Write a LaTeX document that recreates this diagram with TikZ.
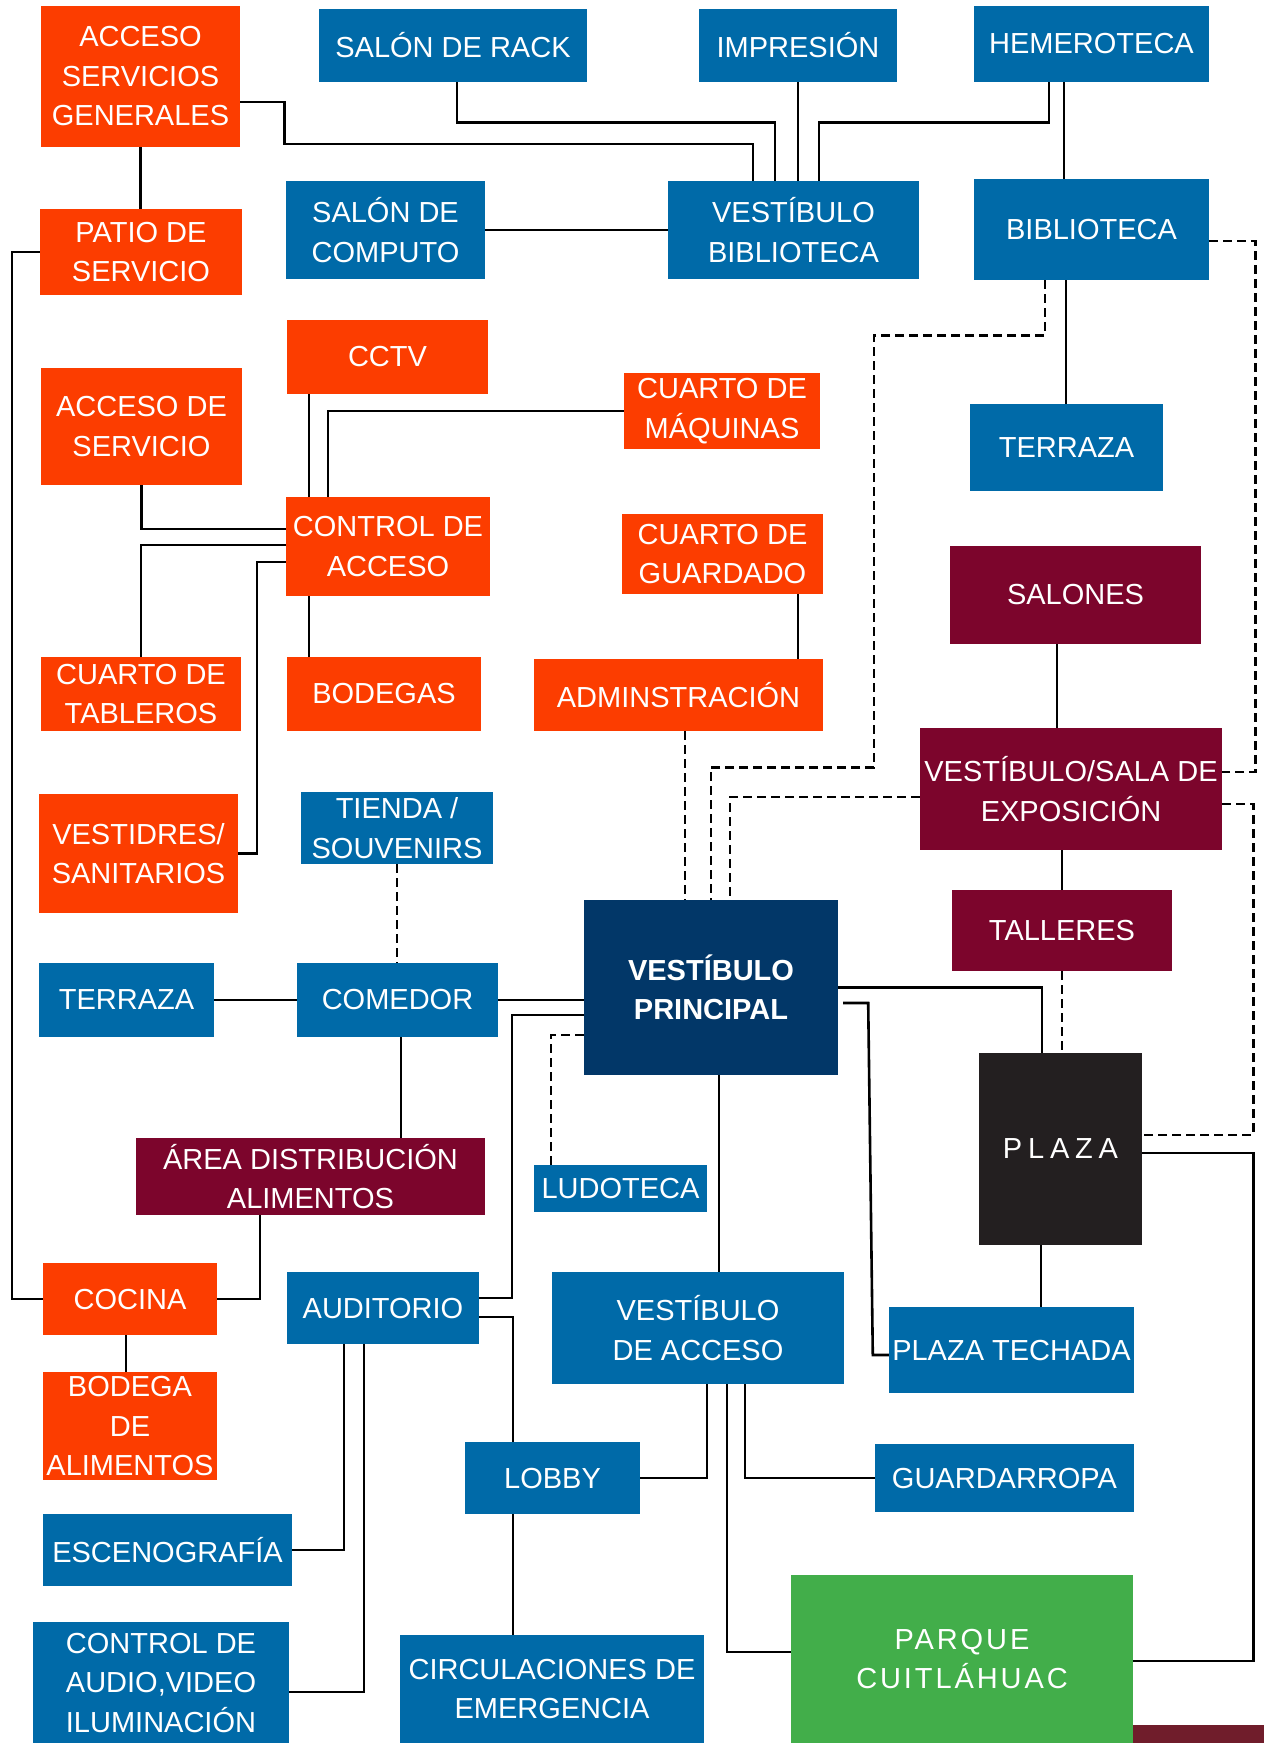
\documentclass[tikz,border=0pt]{standalone}
\usepackage{fontspec}
\setmainfont{Liberation Sans}
\usetikzlibrary{calc}

\definecolor{orng}{RGB}{252,61,0}
\definecolor{blu}{RGB}{0,106,168}
\definecolor{navy}{RGB}{2,55,104}
\definecolor{marn}{RGB}{124,5,44}
\definecolor{plz}{RGB}{35,31,32}
\definecolor{grn}{RGB}{66,174,74}
\definecolor{wine}{RGB}{112,29,43}

\newcommand{\roomfont}{\fontsize{29}{39.5}\selectfont}

\begin{document}
\begin{tikzpicture}[
    x=1pt, y=-1pt,
    every node/.style={font=\roomfont},
    room/.style={
        rectangle,
        fill=#1,
        text=white,
        align=center,
        inner sep=0pt
    },
    wh/.style 2 args={minimum width=#1pt, minimum height=#2pt},
    link/.style={line width=2.6pt, black},
    dlink/.style={link, dash pattern=on 9pt off 5pt}
]
\useasboundingbox (0,0) rectangle (1264,1743);

% Top: library wing
\node[room=orng, wh={199}{141}] (asg)     at (140.5,76.5)   {ACCESO\\SERVICIOS\\GENERALES};
\node[room=blu,  wh={268}{73}]  (rack)    at (453,45.5)     {SALÓN DE RACK};
\node[room=blu,  wh={198}{73}]  (impr)    at (798,45.5)     {IMPRESIÓN};
\node[room=blu,  wh={235}{76}]  (hemer)   at (1091.5,44)    {HEMEROTECA};
\node[room=orng, wh={202}{86}]  (patio)   at (141,252)      {PATIO DE\\SERVICIO};
\node[room=blu,  wh={199}{98}]  (comp)    at (385.5,230)    {SALÓN DE\\COMPUTO};
\node[room=blu,  wh={251}{98}]  (vbib)    at (793.5,230)    {VESTÍBULO\\BIBLIOTECA};
\node[room=blu,  wh={235}{101}] (bib)     at (1091.5,229.5) {BIBLIOTECA};
\node[room=blu,  wh={193}{87}]  (terrn)   at (1066.5,447.5) {TERRAZA};

% Service wing
\node[room=orng, wh={201}{74}]  (cctv)    at (387.5,357)    {CCTV};
\node[room=orng, wh={196}{76}]  (maq)     at (722,411)      {CUARTO DE\\MÁQUINAS};
\node[room=orng, wh={201}{117}] (ads)     at (141.5,426.5)  {ACCESO DE\\SERVICIO};
\node[room=orng, wh={204}{99}]  (cda)     at (388,546.5)    {CONTROL DE\\ACCESO};
\node[room=orng, wh={201}{80}]  (guard)   at (722.5,554)    {CUARTO DE\\GUARDADO};
\node[room=orng, wh={200}{74}]  (tabl)    at (141,694)      {CUARTO DE\\TABLEROS};
\node[room=orng, wh={194}{74}]  (bodegas) at (384,694)      {BODEGAS};
\node[room=orng, wh={289}{72}]  (admin)   at (678.5,695)    {ADMINSTRACIÓN};
\node[room=orng, wh={199}{119}] (vest)    at (138.5,853.5)  {VESTIDRES/\\SANITARIOS};

% Exhibition wing
\node[room=marn, wh={251}{98}]  (salones) at (1075.5,595)   {SALONES};
\node[room=marn, wh={302}{122}] (vsala)   at (1071,789)     {VESTÍBULO/SALA DE\\EXPOSICIÓN};
\node[room=marn, wh={220}{81}]  (tall)    at (1062,930.5)   {TALLERES};

% Main hall, dining, plaza
\node[room=blu,  wh={192}{72}]  (tienda)  at (397,828)      {TIENDA /\\SOUVENIRS};
\node[room=navy, wh={254}{175}, font=\roomfont\bfseries] (vp) at (711,987.5) {VESTÍBULO\\PRINCIPAL};
\node[room=blu,  wh={175}{74}]  (terrs)   at (126.5,1000)   {TERRAZA};
\node[room=blu,  wh={201}{74}]  (comedor) at (397.5,1000)   {COMEDOR};
\node[room=plz,  wh={163}{192}, font=\roomfont\addfontfeature{LetterSpace=20}] (plaza) at (1060.5,1149) {PLAZA};
\node[room=marn, wh={349}{77}]  (area)    at (310.5,1176.5) {ÁREA DISTRIBUCIÓN\\ALIMENTOS};
\node[room=blu,  wh={173}{47}]  (ludo)    at (620.5,1188.5) {LUDOTECA};
\node[room=orng, wh={174}{72}]  (cocina)  at (130,1299)     {COCINA};
\node[room=orng, wh={174}{108}] (bodal)   at (130,1426)     {BODEGA\\DE\\ALIMENTOS};

% Bottom: access and auditorium
\node[room=blu,  wh={192}{72}]  (aud)     at (383,1308)     {AUDITORIO};
\node[room=blu,  wh={292}{112}] (vda)     at (698,1328)     {VESTÍBULO\\DE ACCESO};
\node[room=blu,  wh={245}{86}]  (ptech)   at (1011.5,1350)  {PLAZA TECHADA};
\node[room=blu,  wh={175}{72}]  (lobby)   at (552.5,1478)   {LOBBY};
\node[room=blu,  wh={259}{68}]  (guarda)  at (1004.5,1478)  {GUARDARROPA};
\node[room=blu,  wh={249}{72}]  (esc)     at (167.5,1550)   {ESCENOGRAFÍA};
\node[room=grn,  wh={342}{168}, font=\roomfont\addfontfeature{LetterSpace=10}] (parque) at (962,1659) {PARQUE\\CUITLÁHUAC};
\node[room=blu,  wh={256}{121}] (ctrl)    at (161,1682.5)   {CONTROL DE\\AUDIO,VIDEO\\ILUMINACIÓN};
\node[room=blu,  wh={304}{108}] (circ)    at (552,1689)     {CIRCULACIONES DE\\EMERGENCIA};
\node[room=wine, wh={131}{18}]  (corner)  at (1198.5,1734)  {};

% Library links
\draw[link] (asg.south) -- (asg.south |- patio.north);
\draw[link] ([yshift=-25.5pt]asg.east) -- ++(44,0) -- ++(0,42) -| ([xshift=-40.5pt]vbib.north);
\draw[link] ([xshift=4pt]rack.south) -- ++(0,40) -| ([xshift=-18.5pt]vbib.north);
\draw[link] (impr.south) -- (impr.south |- vbib.north);
\draw[link] ([xshift=-42.5pt]hemer.south) -- ++(0,40) -| ([xshift=25.5pt]vbib.north);
\draw[link] ([xshift=-27.5pt]hemer.south) -- ([xshift=-27.5pt]bib.north);
\draw[link] (comp.east) -- (vbib.west);
\draw[link] ([xshift=-25.5pt]bib.south) -- ([xshift=-25.5pt]bib.south |- terrn.north);
\draw[dlink] ([yshift=-11.5pt]bib.east) -- ++(46,0) |- ([yshift=17pt]vsala.east);
\draw[dlink] ([xshift=-46.5pt]bib.south) -- ++(0,55) -- ++(-171,0) -- ++(0,432) -| (vp.north);

% Service links
\draw[link] ([xshift=-78.5pt]cctv.south) -- ([xshift=-78.5pt]cctv.south |- cda.north);
\draw[link] (maq.west) -| ([xshift=-60pt]cda.north);
\draw[link] (ads.south) |- ([yshift=17.5pt]cda.west);
\draw[link] ([yshift=1.5pt]cda.west) -| (tabl.north);
\draw[link] ([yshift=-15.5pt]cda.west) -- ++(-29,0) |- (vest.east);
\draw[link] ([xshift=-79pt]cda.south) -- ([xshift=-79pt]cda.south |- bodegas.north);
\draw[link] ([xshift=75.5pt]guard.south) -- ([xshift=75.5pt]guard.south |- admin.north);
\draw[link] (patio.west) -- ++(-28,0) |- (cocina.west);

% Exhibition links
\draw[link] ([xshift=-18.5pt]salones.south) -- ([xshift=-18.5pt]salones.south |- vsala.north);
\draw[link] ([xshift=-9pt]vsala.south) -- ([xshift=-9pt]vsala.south |- tall.north);
\draw[dlink] ([xshift=6.5pt]admin.south) -- ([xshift=6.5pt]admin.south |- vp.north);
\draw[dlink] ([yshift=-8pt]vsala.west) -| ([xshift=19pt]vp.north);
\draw[dlink] ([yshift=-15pt]vsala.east) -- ++(31,0) |- ([yshift=14pt]plaza.east);
\draw[dlink] (tall.south) -- (tall.south |- plaza.north);

% Dining links
\draw[dlink] (tienda.south) -- (tienda.south |- comedor.north);
\draw[link] (terrs.east) -- (comedor.west);
\draw[link] (comedor.east) -- (comedor.east -| vp.west);
\draw[link] ([xshift=3.5pt]comedor.south) -- ([xshift=3.5pt]comedor.south |- area.north);
\draw[link] ([xshift=-50.5pt]area.south) |- (cocina.east);
\draw[link] ([xshift=-4pt]cocina.south) -- ([xshift=-4pt]cocina.south |- bodal.north);

% Main hall links
\draw[link] ([yshift=-27.5pt]vp.west) -- ++(-72,0) |- ([yshift=10pt]aud.east);
\draw[dlink] ([yshift=-47.5pt]vp.west) -| ([xshift=-69.5pt]ludo.north);
\draw[link] ([xshift=8pt]vp.south) -- ([xshift=8pt]vp.south |- vda.north);
\draw[link] (vp.east) -| ([xshift=-18.5pt]plaza.north);
\draw[link] ([xshift=5pt,yshift=-15.5pt]vp.east) -- ++(25,0) -- ([xshift=-16pt,yshift=-5pt]ptech.west) -- ([yshift=-5pt]ptech.west);
\draw[link] ([xshift=-19.5pt]plaza.south) -- ([xshift=-19.5pt]plaza.south |- ptech.north);
\draw[link] ([yshift=-4pt]plaza.east) -- ++(111,0) |- ([yshift=-2pt]parque.east);

% Access and auditorium links
\draw[link] ([xshift=9pt]vda.south) |- (lobby.east);
\draw[link] ([xshift=29pt]vda.south) |- ([yshift=7pt]parque.west);
\draw[link] ([xshift=47pt]vda.south) |- (guarda.west);
\draw[link] ([yshift=-9pt]aud.east) -| ([xshift=-39.5pt]lobby.north);
\draw[link] ([xshift=-39pt]aud.south) |- (esc.east);
\draw[link] ([xshift=-19pt]aud.south) |- ([yshift=-9.5pt]ctrl.east);
\draw[link] ([xshift=-39.5pt]lobby.south) -- ([xshift=-39.5pt]lobby.south |- circ.north);

\end{tikzpicture}
\end{document}
